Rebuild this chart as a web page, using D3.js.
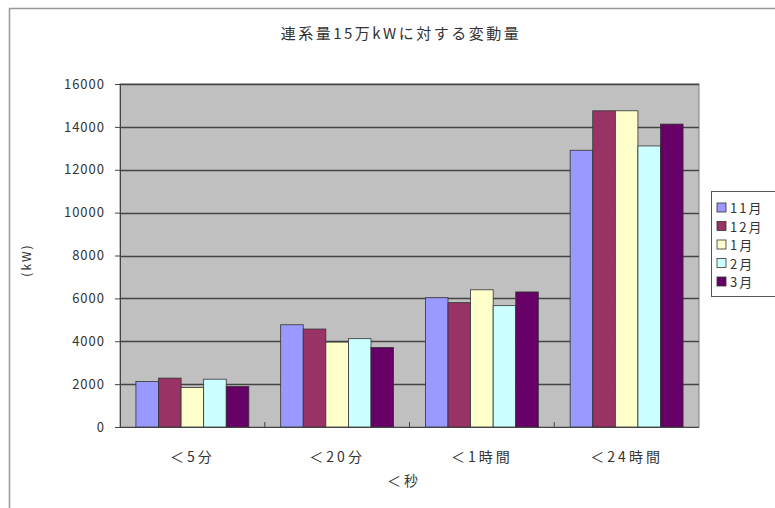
<!DOCTYPE html>
<html>
<head>
<meta charset="utf-8">
<script src="https://cdn.jsdelivr.net/npm/d3@7"></script>
<style>
  body { margin: 0; background: #fff; }
  text { font-family: "Noto Sans CJK JP", "DejaVu Sans", sans-serif; fill: #333; }
</style>
</head>
<body>
<div id="chart"></div>
<script>
// data
let categories = ["＜5分", "＜20分", "＜1時間", "＜24時間"];
let months = ["11月", "12月", "1月", "2月", "3月"];
let values11 = [2120, 4770, 6030, 12910];
let values12 = [2280, 4570, 5800, 14750];
let values1 = [1840, 3960, 6400, 14750];
let values2 = [2230, 4120, 5660, 13110];
let values3 = [1890, 3710, 6300, 14130];
let yTicks = [0, 2000, 4000, 6000, 8000, 10000, 12000, 14000, 16000];
let colors = ["#9999ff", "#993366", "#ffffcc", "#ccffff", "#660066"];

let seriesValues = [values11, values12, values1, values2, values3];

let svgWidth = 775;
let svgHeight = 508;

// plot area
let margin = {top: 84, left: 120, right: 76, bottom: 81};
let width = svgWidth - margin.left - margin.right;
let height = svgHeight - margin.top - margin.bottom;

let svg = d3.select("#chart")
  .append("svg")
  .attr("width", svgWidth)
  .attr("height", svgHeight);

// outer chart border (runs off the right and bottom edges)
svg.append("path")
  .attr("d", `M9.5,${svgHeight} V8.5 H${svgWidth}`)
  .attr("fill", "none")
  .attr("stroke", "#999")
  .attr("stroke-width", 1.5);

let chartGroup = svg.append("g")
  .attr("transform", `translate(${margin.left}, ${margin.top})`);

let xScale = d3.scaleBand()
  .domain(categories)
  .range([0, width])
  .paddingInner(0.22)
  .paddingOuter(0.11);

let xSub = d3.scaleBand()
  .domain(months)
  .range([0, xScale.bandwidth()]);

let yScale = d3.scaleLinear()
  .domain([0, 16000])
  .range([height, 0]);

// grey plot background
chartGroup.append("rect")
  .attr("width", width)
  .attr("height", height)
  .attr("fill", "#c0c0c0")
  .attr("stroke", "#808080");

// gridlines
chartGroup.append("g")
  .selectAll("line")
  .data(yTicks.filter(d => d > 0))
  .enter()
  .append("line")
  .attr("x1", 0)
  .attr("x2", width)
  .attr("y1", d => Math.round(yScale(d)) + 0.5)
  .attr("y2", d => Math.round(yScale(d)) + 0.5)
  .attr("stroke", "#444")
  .attr("stroke-width", 1.4);

// bars
let groups = chartGroup.append("g")
  .selectAll("g")
  .data(categories)
  .enter()
  .append("g")
  .attr("transform", d => `translate(${xScale(d)},0)`);

groups.selectAll("rect")
  .data((c, ci) => months.map((m, mi) => ({month: m, value: seriesValues[mi][ci], color: colors[mi]})))
  .enter()
  .append("rect")
  .attr("x", d => xSub(d.month))
  .attr("y", d => yScale(d.value))
  .attr("width", xSub.bandwidth())
  .attr("height", d => height - yScale(d.value))
  .attr("fill", d => d.color)
  .attr("stroke", "#333")
  .attr("stroke-width", 0.8);

// y axis
let leftAxis = d3.axisLeft(yScale)
  .tickValues(yTicks)
  .tickSize(5)
  .tickPadding(10)
  .tickFormat(d3.format("d"));

let yAxis = chartGroup.append("g").call(leftAxis);
yAxis.select(".domain").attr("stroke", "#444");
yAxis.selectAll(".tick line").attr("stroke", "#444");
yAxis.selectAll("text")
  .attr("font-size", "13px")
  .attr("letter-spacing", "1px")
  .attr("fill", "#555");

// x axis line + tick marks between categories
chartGroup.append("line")
  .attr("x1", 0).attr("x2", width)
  .attr("y1", height + 0.5).attr("y2", height + 0.5)
  .attr("stroke", "#444");

chartGroup.append("g")
  .selectAll("line")
  .data(d3.range(1, categories.length))
  .enter()
  .append("line")
  .attr("x1", d => d * width / categories.length)
  .attr("x2", d => d * width / categories.length)
  .attr("y1", height)
  .attr("y2", height - 5)
  .attr("stroke", "#444");

// category labels
chartGroup.append("g")
  .selectAll("text")
  .data(categories)
  .enter()
  .append("text")
  .attr("x", d => xScale(d) + xScale.bandwidth() / 2)
  .attr("y", height + 35)
  .attr("text-anchor", "middle")
  .attr("font-size", "14px")
  .attr("letter-spacing", "3px")
  .attr("fill", "#555")
  .text(d => d);

// axis titles
svg.append("text")
  .attr("x", 404)
  .attr("y", 486)
  .attr("text-anchor", "middle")
  .attr("font-size", "14px")
  .attr("letter-spacing", "3px")
  .attr("fill", "#555")
  .text("＜秒");

svg.append("text")
  .attr("transform", "translate(31, 260) rotate(-90)")
  .attr("text-anchor", "middle")
  .attr("font-size", "12px")
  .attr("letter-spacing", "2px")
  .attr("fill", "#555")
  .text("(kW)");

// title
svg.append("text")
  .attr("x", 401)
  .attr("y", 39)
  .attr("text-anchor", "middle")
  .attr("font-size", "15px")
  .attr("letter-spacing", "2.5px")
  .attr("fill", "#444")
  .text("連系量15万kWに対する変動量");

// legend
let legend = svg.append("g")
  .attr("transform", "translate(711, 191)");

legend.append("rect")
  .attr("x", 0.5).attr("y", 0.5)
  .attr("width", 70).attr("height", 105)
  .attr("fill", "#fff")
  .attr("stroke", "#555");

let legendItems = legend.selectAll("g.item")
  .data(months)
  .enter()
  .append("g")
  .attr("class", "item")
  .attr("transform", (d, i) => `translate(6, ${17 + i * 18.5})`);

legendItems.append("rect")
  .attr("x", 0).attr("y", -5)
  .attr("width", 9).attr("height", 9)
  .attr("fill", (d, i) => colors[i])
  .attr("stroke", "#333")
  .attr("stroke-width", 0.8);

legendItems.append("text")
  .attr("x", 13)
  .attr("y", 5)
  .attr("font-size", "13px")
  .attr("letter-spacing", "2px")
  .attr("fill", "#555")
  .text(d => d);
</script>
</body>
</html>
